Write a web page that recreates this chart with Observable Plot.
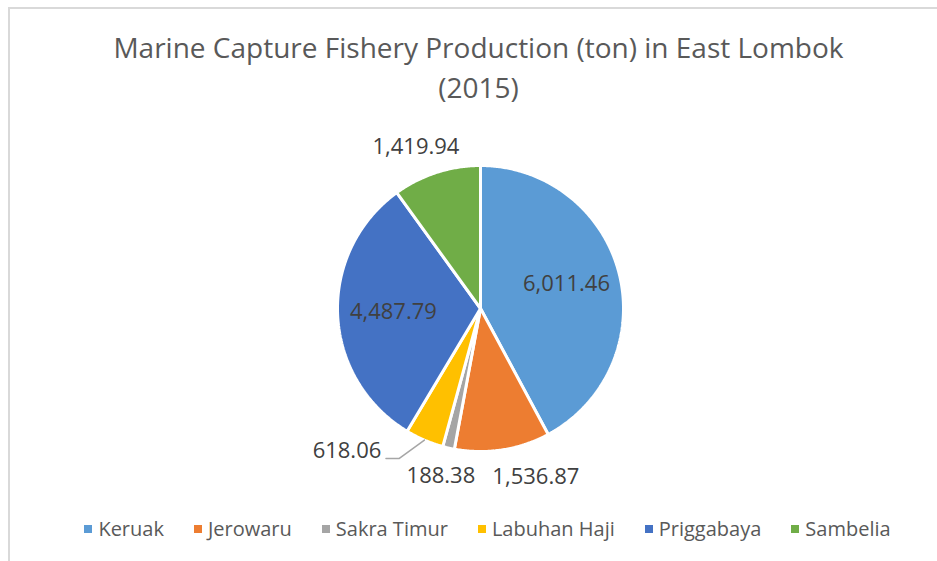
<!DOCTYPE html>
<html>
<head>
<meta charset="utf-8">
<script src="https://cdn.jsdelivr.net/npm/d3@7"></script>
<script src="https://cdn.jsdelivr.net/npm/@observablehq/plot@0.6"></script>
<style>
  html, body { margin: 0; padding: 0; background: #fff; }
  #wrap { position: relative; width: 937px; height: 561px; overflow: hidden; font-family: "Open Sans", sans-serif; }
  #frame { position: absolute; left: 8px; top: 7px; width: 960px; height: 600px; border: 2px solid #d9d9d9; box-sizing: border-box; }
  #title { position: absolute; left: 10px; width: 937px; top: 27px; text-align: center; color: #595959; font-size: 28px; line-height: 40px; }
  #chart { position: absolute; left: 0; top: 115px; }
  #legend { position: absolute; left: 19px; width: 937px; top: 515px; display: flex; justify-content: center; gap: 30px; color: #595959; font-size: 20px; line-height: 28px; }
  #legend .item { display: flex; align-items: center; }
  #legend .sw { width: 8px; height: 8px; margin-right: 6px; }
</style>
</head>
<body>
<div id="wrap">
  <div id="frame"></div>
  <div id="title">Marine Capture Fishery Production (ton) in East Lombok<br>(2015)</div>
  <div id="chart"></div>
  <div id="legend"></div>
</div>
<script>
// ---- data ----
const categories = ["Keruak", "Jerowaru", "Sakra Timur", "Labuhan Haji", "Priggabaya", "Sambelia"];
const values = [6011.46, 1536.87, 188.38, 618.06, 4487.79, 1419.94];
const valueLabels = ["6,011.46", "1,536.87", "188.38", "618.06", "4,487.79", "1,419.94"];
const colors = ["#5B9BD5", "#ED7D31", "#A5A5A5", "#FFC000", "#4472C4", "#70AD47"];

// ---- layout (label placement: radius factor, pixel dx, dy) ----
const labelRadius = [0.62, 1.24, 1.24, 1.24, 0.61, 1.24];
const labelDx = [0, 28, 0, -64, 0, -10];
const labelDy = [-3, -7, -5, -21, 0, 7];
const R = 143;           // pixel radius
const W = 937, H = 390;  // svg size
const cx = 480, cy = 193; // pie centre in svg pixels

const arcs = d3.pie().sort(null).value(d => d)(values);
const polar = (a, r) => [r * Math.sin(a), r * Math.cos(a)];

// slice polygons
const slicePts = [];
arcs.forEach((a, i) => {
  const n = Math.max(2, Math.ceil((a.endAngle - a.startAngle) / (Math.PI / 360)));
  slicePts.push({name: categories[i], x: 0, y: 0});
  for (let k = 0; k <= n; k++) {
    const t = a.startAngle + (a.endAngle - a.startAngle) * k / n;
    const [x, y] = polar(t, 1);
    slicePts.push({name: categories[i], x, y});
  }
});

// labels
const labelData = arcs.map((a, i) => {
  const mid = (a.startAngle + a.endAngle) / 2;
  const [x, y] = polar(mid, labelRadius[i]);
  return {name: categories[i], text: valueLabels[i], x: x + labelDx[i] / R, y: y - labelDy[i] / R};
});

// leader line for Labuhan Haji
const li = 3;
const midL = (arcs[li].startAngle + arcs[li].endAngle) / 2;
const [lx0, ly0] = polar(midL, 1.0);
const lab = labelData[li];
const lend = [lab.x + 39 / R, lab.y - 8 / R];
const leader = [
  {x: lx0, y: ly0},
  {x: lend[0] + 13 / R, y: lend[1]},
  {x: lend[0], y: lend[1]}
];

const chart = Plot.plot({
  width: W, height: H,
  margin: 0,
  x: {domain: [-cx / R, (W - cx) / R], axis: null},
  y: {domain: [-(H - cy) / R, cy / R], axis: null},
  color: {domain: categories, range: colors},
  marks: [
    Plot.line(slicePts, {x: "x", y: "y", z: "name", fill: "name", stroke: "white", strokeWidth: 3, curve: "linear-closed", strokeLinejoin: "miter"}),
    Plot.line(leader, {x: "x", y: "y", stroke: "#a6a6a6", strokeWidth: 1.5}),
    Plot.text(labelData, {x: "x", y: "y", text: "text", fill: "#404040", fontSize: 22, fontFamily: "Open Sans"})
  ]
});
document.getElementById("chart").appendChild(chart);

// legend
const legend = document.getElementById("legend");
categories.forEach((c, i) => {
  const it = document.createElement("div");
  it.className = "item";
  it.innerHTML = `<span class="sw" style="background:${colors[i]}"></span><span>${c}</span>`;
  legend.appendChild(it);
});
</script>
</body>
</html>
